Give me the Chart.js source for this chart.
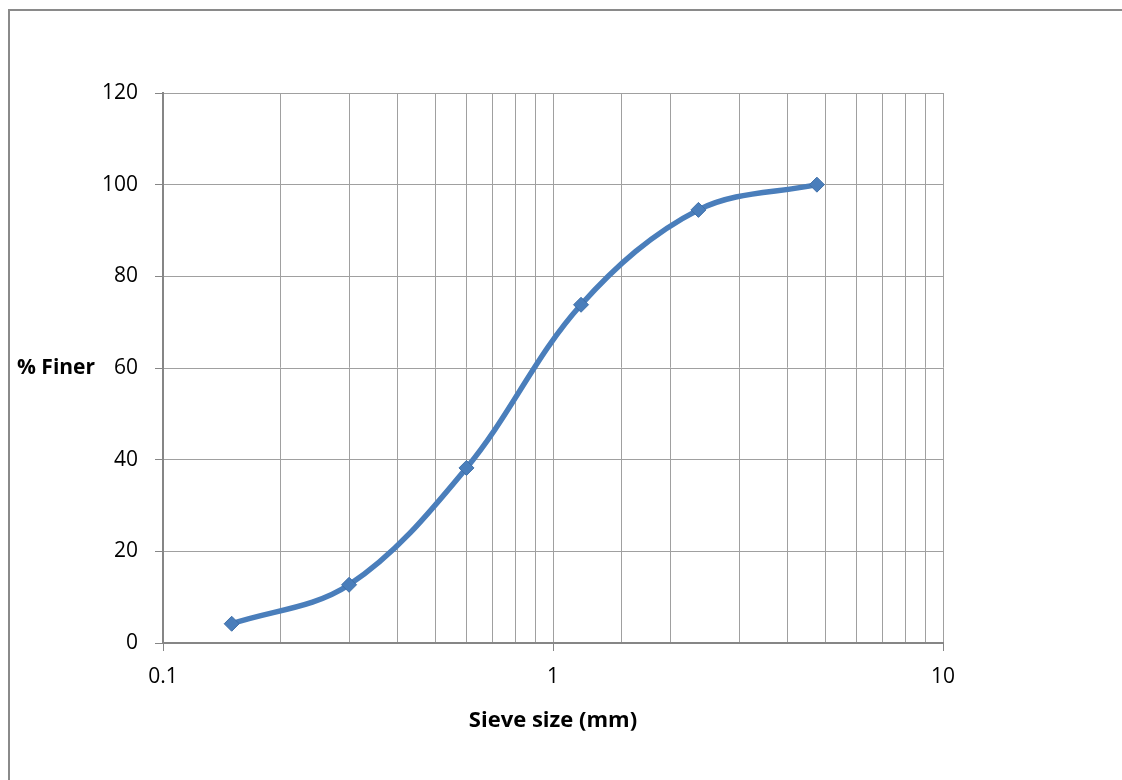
<!DOCTYPE html>
<html>
<head>
<meta charset="utf-8">
<script src="https://cdn.jsdelivr.net/npm/chart.js@4"></script>
<style>
    html, body { margin: 0; padding: 0; background: #fff; overflow: hidden; }
    #frame {
        position: absolute;
        left: 8px;
        top: 9px;
        width: 1112px;
        height: 769px;
        border-left: 2px solid #8a8a8a;
        border-top: 2px solid #8a8a8a;
    }
    #gradation { display: block; }
</style>
</head>
<body>
<div id="frame">
    <canvas id="gradation" width="1112" height="769"></canvas>
</div>
<script>
// sieve analysis - cumulative percent passing
const sieveSizes = [0.15, 0.3, 0.6, 1.18, 2.36, 4.75];
const percentFiner = [4.2, 12.7, 38.2, 73.8, 94.5, 100];
const xTickLabels = [0.1, 1, 10];
const yTicks = [0, 20, 40, 60, 80, 100, 120];

const gridColor = '#a0a0a0';
const axisColor = '#868686';
const lineColor = '#4a7ebb';
const fontFamily = "'Open Sans', 'Liberation Sans', sans-serif";

// y axis title is drawn flat, left of the axis
const flatYTitle = {
    id: 'flatYTitle',
    afterDraw(chart) {
        const ctx = chart.ctx;
        const y = chart.scales.y;
        ctx.save();
        ctx.font = 'bold 21px ' + fontFamily;
        ctx.fillStyle = '#000';
        ctx.textAlign = 'left';
        ctx.textBaseline = 'middle';
        ctx.fillText('% Finer', 7, y.getPixelForValue(60));
        ctx.restore();
    }
};

const ctx = document.getElementById('gradation').getContext('2d');
new Chart(ctx, {
    type: 'line',
    data: {
        datasets: [{
            label: '% Finer',
            data: sieveSizes.map((s, i) => ({ x: s, y: percentFiner[i] })),
            borderColor: lineColor,
            backgroundColor: lineColor,
            borderWidth: 5.5,
            tension: 0.35,
            pointStyle: 'rectRot',
            pointRadius: 7.5,
            pointBorderColor: '#3f6fa8',
            pointBorderWidth: 1,
            fill: false
        }]
    },
    plugins: [flatYTitle],
    options: {
        responsive: false,
        animation: false,
        layout: {
            padding: { left: 0, top: 82, right: 179, bottom: 0 }
        },
        plugins: {
            legend: { display: false },
            tooltip: { enabled: false }
        },
        scales: {
            x: {
                type: 'logarithmic',
                min: 0.1,
                max: 10,
                afterFit: scale => { scale.height = 137; },
                grid: {
                    color: gridColor,
                    lineWidth: 1,
                    tickLength: 8,
                    tickColor: c => xTickLabels.includes(c.tick.value) ? axisColor : 'rgba(0,0,0,0)'
                },
                border: { color: axisColor, width: 2 },
                ticks: {
                    autoSkip: false,
                    maxRotation: 0,
                    padding: 13,
                    color: '#000',
                    font: { family: fontFamily, size: 21 },
                    callback: v => xTickLabels.includes(v) ? String(v) : ''
                },
                title: {
                    display: true,
                    text: 'Sieve size (mm)',
                    color: '#000',
                    font: { family: fontFamily, size: 22, weight: 'bold' },
                    padding: { top: 0, bottom: 46 }
                }
            },
            y: {
                min: 0,
                max: 120,
                afterFit: scale => { scale.width = 153; },
                afterBuildTicks: scale => { scale.ticks = yTicks.map(v => ({ value: v })); },
                grid: {
                    color: gridColor,
                    lineWidth: 1,
                    tickLength: 8,
                    tickColor: axisColor
                },
                border: { color: axisColor, width: 2 },
                ticks: {
                    padding: 17,
                    color: '#000',
                    font: { family: fontFamily, size: 21 }
                }
            }
        }
    }
});
</script>
</body>
</html>
